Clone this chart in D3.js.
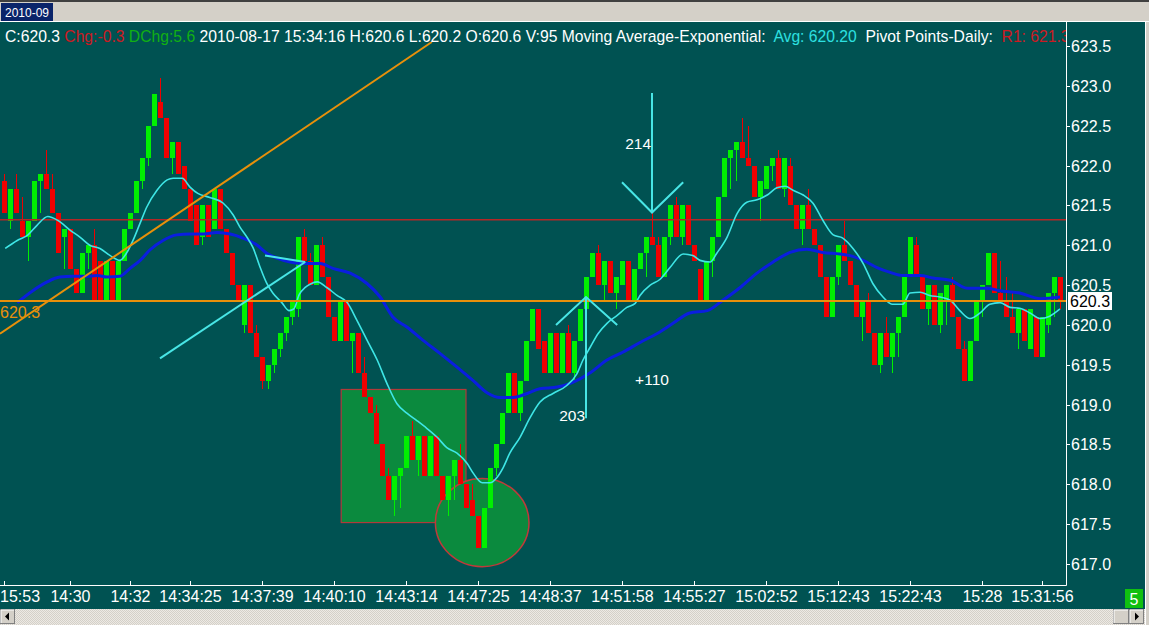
<!DOCTYPE html>
<html><head><meta charset="utf-8">
<script src="https://cdn.jsdelivr.net/npm/d3@7"></script>
<style>
html,body{margin:0;padding:0;background:#d4d0c8;overflow:hidden;}
svg{display:block;font-family:"Liberation Sans",Arial,sans-serif;}
</style></head>
<body>
<svg id="c" width="1149" height="625"></svg>
<script>
// ---------- DATA ----------
// candles: [open, high, low, close]
const candles = [
[621.8,621.9,621.4,621.4],[621.3,621.7,621.2,621.7],[621.7,621.9,621.4,621.4],[621.3,621.6,621.1,621.1],
[621.1,621.3,620.8,621.3],[621.3,621.8,621.3,621.8],[621.8,621.9,621.4,621.9],[621.9,622.2,621.7,621.7],
[621.7,621.9,621.4,621.4],[621.4,621.4,620.9,620.9],[621.1,621.2,620.7,621.2],[621.2,621.2,620.7,620.7],
[620.7,620.7,620.4,620.4],[620.4,620.9,620.4,620.9],[620.9,621.0,620.7,621.0],[621.0,621.2,620.3,620.3],
[620.8,620.8,620.3,620.3],[620.3,620.8,620.3,620.8],[620.8,620.8,620.3,620.3],[620.3,620.8,620.3,620.8],
[620.8,621.2,620.8,621.2],[621.2,621.4,621.2,621.4],[621.4,621.8,621.4,621.8],[621.8,622.1,621.7,622.1],
[622.1,622.5,622.0,622.5],[622.5,622.9,622.5,622.9],[622.8,623.1,622.6,622.6],[622.6,622.6,622.1,622.1],
[622.1,622.3,621.9,622.3],[622.3,622.3,621.9,621.9],[622.0,622.0,621.7,621.7],[621.7,621.7,621.3,621.3],
[621.5,621.5,621.0,621.0],[621.1,621.5,621.0,621.5],[621.5,621.5,621.1,621.1],[621.2,621.7,621.2,621.7],
[621.7,621.7,621.2,621.2],[621.2,621.2,620.9,620.9],[620.9,620.9,620.5,620.5],[620.5,620.5,620.3,620.3],
[620.0,620.5,619.9,620.5],[620.5,620.5,619.9,619.9],[619.9,620.0,619.6,619.6],[619.6,619.6,619.2,619.3],
[619.3,619.5,619.2,619.5],[619.5,619.7,619.4,619.7],[619.7,619.9,619.6,619.9],[619.9,620.1,619.8,620.1],
[620.1,620.3,620.0,620.3],[620.2,621.1,620.1,621.1],[621.1,621.2,620.8,620.8],[620.8,620.9,620.5,620.5],
[620.5,621.0,620.5,621.0],[621.0,621.1,620.6,620.6],[620.6,620.6,620.1,620.1],[620.1,620.1,619.8,619.8],
[619.8,620.3,619.8,620.3],[620.3,620.3,619.8,619.8],[619.8,619.9,619.4,619.9],[619.9,619.9,619.4,619.4],
[619.4,619.6,619.1,619.1],[619.1,619.1,618.9,618.9],[618.9,619.0,618.5,618.5],[618.5,618.5,618.1,618.1],
[618.1,618.2,617.8,617.8],[617.8,618.1,617.6,618.1],[618.1,618.2,617.7,618.2],[618.2,618.6,618.2,618.6],
[618.6,618.8,618.3,618.3],[618.3,618.6,618.1,618.6],[618.6,618.6,618.1,618.1],[618.1,618.6,618.1,618.6],
[618.6,618.6,618.1,618.1],[618.1,618.1,617.8,617.8],[617.8,618.1,617.6,618.1],[618.1,618.3,617.8,618.3],
[618.3,618.5,618.0,618.0],[618.0,618.0,617.7,617.7],[617.8,618.0,617.6,617.6],[617.6,617.6,617.2,617.2],
[617.2,617.7,617.2,617.7],[617.7,618.2,617.7,618.2],[618.2,618.5,618.1,618.5],[618.5,618.9,618.5,618.9],
[618.9,619.4,618.9,619.4],[619.4,619.4,618.9,618.9],[618.9,619.3,618.8,619.3],[619.3,619.8,619.3,619.8],
[619.8,620.2,619.8,620.2],[620.2,620.2,619.7,619.7],[619.8,619.8,619.4,619.4],[619.4,619.9,619.4,619.9],
[619.9,619.9,619.4,619.4],[619.4,619.9,619.4,619.9],[619.9,620.0,619.4,619.4],[619.4,619.8,619.3,619.8],
[619.8,620.2,619.8,620.2],[620.2,620.6,620.2,620.6],[620.6,620.9,620.6,620.9],[620.9,621.0,620.5,620.5],
[620.5,620.8,620.3,620.8],[620.8,620.8,620.4,620.4],[620.4,620.6,620.2,620.6],[620.5,620.8,620.5,620.8],
[620.8,620.8,620.3,620.3],[620.3,620.7,620.3,620.7],[620.7,620.9,620.7,620.9],[620.9,621.1,620.6,621.1],
[621.1,621.4,621.0,621.0],[621.0,621.1,620.6,620.6],[620.6,621.1,620.6,621.1],[621.1,621.5,621.0,621.5],
[621.5,621.6,621.1,621.1],[621.1,621.5,621.0,621.5],[621.5,621.5,621.0,621.0],[621.0,621.0,620.8,620.8],
[620.7,620.7,620.3,620.3],[620.3,620.8,620.3,620.8],[620.8,621.1,620.6,621.1],[621.1,621.6,621.1,621.6],
[621.6,622.1,621.6,622.1],[622.1,622.2,621.7,622.2],[622.2,622.3,621.8,622.3],[622.3,622.6,622.1,622.1],
[622.1,622.5,622.0,622.0],[622.0,622.0,621.6,621.6],[621.6,621.8,621.3,621.8],[621.7,622.0,621.7,622.0],
[622.0,622.1,621.8,622.1],[622.1,622.2,621.7,621.7],[621.7,622.1,621.6,622.1],[622.0,622.1,621.5,621.5],
[621.5,621.5,621.2,621.2],[621.2,621.5,621.0,621.5],[621.5,621.7,621.2,621.2],[621.2,621.2,621.0,621.0],
[621.0,621.0,620.6,620.6],[620.6,620.6,620.1,620.1],[620.1,620.6,620.1,620.6],[620.6,621.0,620.5,621.0],
[621.0,621.3,620.8,620.8],[620.8,620.8,620.5,620.5],[620.5,620.5,620.1,620.1],[620.1,620.3,619.8,620.3],
[620.3,620.4,619.9,619.9],[619.9,619.9,619.5,619.5],[619.5,619.9,619.4,619.9],[619.9,620.1,619.6,619.6],
[619.6,619.9,619.4,619.9],[619.9,620.1,619.6,620.1],[620.1,620.6,620.1,620.6],[620.6,621.1,620.6,621.1],
[621.0,621.1,620.6,620.6],[620.6,620.6,620.2,620.2],[620.2,620.5,620.0,620.5],[620.5,620.5,620.0,620.0],
[620.0,620.4,619.9,620.4],[620.3,620.5,620.0,620.5],[620.5,620.6,620.1,620.1],[620.1,620.1,619.7,619.7],
[619.7,619.8,619.3,619.3],[619.3,619.8,619.3,619.8],[619.8,620.3,619.8,620.3],[620.3,620.5,620.1,620.5],
[620.5,620.9,620.5,620.9],[620.9,620.9,620.4,620.4],[620.4,620.8,620.3,620.3],[620.3,620.6,620.1,620.1],
[620.1,620.4,619.9,619.9],[619.9,620.2,619.7,620.2],[620.2,620.2,619.8,619.8],[619.7,620.2,619.7,620.2],
[620.1,620.1,619.6,619.6],[619.6,620.1,619.6,620.1],[620.0,620.4,619.9,620.4],[620.4,620.6,620.1,620.6],
[620.6,620.6,620.2,620.3]
];

// fast EMA (cyan) sampled: [candle index, price]
const emaFast = [
[0.2,620.96],[2.2,621.06],[4,621.13],[5.5,621.25],[7.3,621.36],[9,621.31],[11,621.19],[12.7,621.10],
[14.3,621.0],[16,620.96],[17.7,620.87],[19.3,620.81],[20.5,620.91],[21.5,621.06],[22.7,621.28],[23.8,621.48],
[25.5,621.69],[27.2,621.82],[28.2,621.84],[29.7,621.84],[31,621.73],[32.3,621.65],[34.3,621.60],[36.5,621.53],
[38.2,621.38],[39.3,621.23],[40.5,621.10],[41.5,620.97],[42.7,620.72],[43.8,620.52],[44.8,620.40],[46.3,620.28],
[47.5,620.18],[48.3,620.2],[49.2,620.38],[50.2,620.47],[51,620.51],[52.2,620.54],[53.8,620.47],[55.5,620.37],[57.2,620.28],
[58.8,620.06],[60.5,619.81],[62.2,619.56],[63.8,619.27],[65.5,619.01],[67.2,618.89],[68.8,618.80],[70.5,618.70],
[72.2,618.59],[73.8,618.46],[75.5,618.39],[77.2,618.26],[78.2,618.14],[79.7,618.02],[81,618.02],[82.2,618.09],
[83.2,618.21],[84.3,618.39],[86,618.59],[87.7,618.84],[89.3,619.03],[91.5,619.14],[93.8,619.24],[95.5,619.39],
[96.5,619.56],[97.7,619.72],[99,619.89],[100.5,620.02],[102.2,620.12],[103.8,620.22],[105.2,620.27],[106,620.37],
[107.7,620.50],[109.3,620.57],[111,620.72],[113.2,620.89],[114.8,620.87],[116,620.81],[117.7,620.79],[118.8,620.90],
[120.5,621.10],[122.2,621.40],[123.8,621.54],[125.5,621.57],[127.2,621.63],[128.8,621.72],[130.2,621.74],[131.5,621.69],
[133.2,621.63],[134.8,621.53],[136.5,621.31],[138.2,621.13],[139.8,621.09],[141.5,620.96],[143.2,620.77],[144.8,620.52],
[146.5,620.35],[148,620.26],[149.8,620.26],[151,620.40],[152.7,620.41],[154.3,620.37],[156,620.35],[157.7,620.31],
[159.3,620.18],[161,620.08],[162.7,620.15],[164.3,620.26],[166,620.28],[167.7,620.22],[169.3,620.21],[171,620.15],
[172.7,620.08],[174.3,620.11],[176,620.20]
];

// slow EMA (blue) sampled: [candle index, price]
const emaSlow = [
[2.2,620.28],[4.8,620.43],[7.2,620.54],[9.3,620.60],[11.5,620.61],[13.8,620.61],[15.5,620.62],[17.2,620.60],
[19.3,620.61],[21,620.71],[22.7,620.81],[24.3,620.94],[26.5,621.06],[28.8,621.13],[31,621.14],[33.2,621.14],
[35.5,621.16],[37.7,621.14],[39.8,621.09],[42.2,621.0],[43.8,620.90],[45.5,620.84],[47.7,620.79],[49.8,620.77],
[52.7,620.77],[54.8,620.71],[57.7,620.65],[60.5,620.52],[62.7,620.35],[64.8,620.10],[67.2,619.97],[69.8,619.81],
[72.7,619.64],[75.5,619.47],[78.2,619.30],[80.5,619.15],[82.7,619.09],[84.8,619.09],[87.2,619.14],[89.3,619.20],
[92.2,619.22],[94.8,619.28],[97.7,619.40],[100.5,619.56],[103.2,619.66],[106,619.78],[108.8,619.89],[111.5,620.02],
[114.3,620.15],[117.2,620.18],[119.8,620.31],[122.7,620.47],[125.5,620.65],[128.2,620.79],[131,620.91],[133.8,620.95],
[136.5,620.91],[139.3,620.89],[141,620.87],[143.2,620.81],[145.5,620.72],[147.7,620.66],[149.8,620.62],[152.7,620.62],
[154.8,620.59],[157.7,620.56],[160.5,620.46],[163.8,620.46],[166,620.43],[169.3,620.40],[172.7,620.33],[176,620.35]
];

const yTicks = [617.0,617.5,618.0,618.5,619.0,619.5,620.0,620.5,621.0,621.5,622.0,622.5,623.0,623.5];
const xTickIdx = [0,11,21,31,43,55,67,79,91,103,115,127,139,151,163,173];
const xTickLabels = ["15:53","14:30","14:32","14:34:25","14:37:39","14:40:10","14:43:14","14:47:25","14:48:37","14:51:58","14:55:27","15:02:52","15:12:43","15:22:43","15:28","15:31:56"];

const lastPrice = 620.3;
const pivotR1 = 621.33;

// drawn objects in (candle index, price)
const trendLine = [[-0.67,619.89],[71.3,623.55]];
const arrowLeftShaft = [[26,619.58],[50.2,620.79]];
const arrowLeftHead = [[43.5,620.87],[50.2,620.79]];
const arrowUpShaft = [[97,618.83],[97,620.35]];
const arrowUpHead = [[92,620.0],[97,620.35],[102.2,620.0]];
const arrowDownShaft = [[108,622.91],[108,621.41]];
const arrowDownHead = [[103,621.79],[108,621.41],[113.2,621.79]];
const boxArea = [[56.2,619.19],[77,617.52]];
const circleArea = {cx:79.7, cy:617.52, rIdx:7.8, rPrice:0.553};
const noteLabels = [[105.7,622.28,"214"],[94.7,618.86,"203"],[108,619.31,"+110"]];

// header segments
const header = [
 ["C:620.3 ","#ffffff"],["Chg:-0.3 ","#cc1a22"],["DChg:5.6 ","#12b012"],
 ["2010-08-17 15:34:16 H:620.6 L:620.2 O:620.6 V:95 Moving Average-Exponential:  ","#ffffff"],
 ["Avg: 620.20","#2de0e0"],["  Pivot Points-Daily:  ","#ffffff"],["R1: 621.3","#cc1a22"]
];

// ---------- LAYOUT ----------
const W = 1149, H = 625;
const plotL = 0, plotR = 1066, plotT = 22, plotB = 585;
const teal = "#005252";
const svg = d3.select("#c");

const x = d3.scaleLinear().domain([0,176]).range([4,1060]);
const y = d3.scaleLinear().domain([617.0,623.5]).range([564,46]);

// window chrome
svg.append("rect").attr("x",0).attr("y",0).attr("width",W).attr("height",H).attr("fill","#d4d0c8");
svg.append("rect").attr("x",0).attr("y",0).attr("width",W).attr("height",2).attr("fill","#404040");
svg.append("rect").attr("x",1).attr("y",3).attr("width",52).attr("height",19).attr("fill","#0a246a");
svg.append("text").attr("x",27).attr("y",17).attr("text-anchor","middle").attr("fill","#fff")
  .attr("font-size",12).text("2010-09");
svg.append("rect").attr("x",0).attr("y",21).attr("width",W).attr("height",1).attr("fill","#ffffff");
svg.append("rect").attr("x",0).attr("y",22).attr("width",1145).attr("height",587).attr("fill",teal);

// scrollbar
const defs = svg.append("defs");
const pat = defs.append("pattern").attr("id","hatch").attr("width",2).attr("height",2).attr("patternUnits","userSpaceOnUse");
pat.append("rect").attr("width",2).attr("height",2).attr("fill","#ece9e4");
pat.append("rect").attr("width",1).attr("height",1).attr("fill","#d4d0c8");
pat.append("rect").attr("x",1).attr("y",1).attr("width",1).attr("height",1).attr("fill","#d4d0c8");
svg.append("rect").attr("x",0).attr("y",609).attr("width",1145).attr("height",16).attr("fill","url(#hatch)");
function button(bx,by,bw,bh){
  svg.append("rect").attr("x",bx).attr("y",by).attr("width",bw).attr("height",bh).attr("fill","#d4d0c8")
    .attr("stroke","#808080").attr("stroke-width",1);
  svg.append("path").attr("d",`M${bx+0.5},${by+bh-0.5}V${by+0.5}H${bx+bw-0.5}`).attr("fill","none").attr("stroke","#fff");
}
button(0.5,609.5,14,14);
svg.append("path").attr("d","M5,616.5L9,612.5V620.5Z").attr("fill","#000");
button(1113.5,609.5,15,14);
button(1129.5,609.5,14,14);
svg.append("path").attr("d","M1135,612.5L1139,616.5L1135,620.5Z").attr("fill","#000");
svg.append("rect").attr("x",1145).attr("y",22).attr("width",4).attr("height",603).attr("fill","#d4d0c8");
svg.append("rect").attr("x",1145).attr("y",22).attr("width",1).attr("height",603).attr("fill","#ffffff");

// clip
defs.append("clipPath").attr("id","plotclip").append("rect")
  .attr("x",plotL).attr("y",plotT).attr("width",plotR-plotL).attr("height",plotB-plotT);
const g = svg.append("g").attr("clip-path","url(#plotclip)");

// shapes behind candles
const [b0,b1] = boxArea;
g.append("rect").attr("x",x(b0[0])).attr("y",y(b0[1]))
  .attr("width",x(b1[0])-x(b0[0])).attr("height",y(b1[1])-y(b0[1]))
  .attr("fill","#0b8a3e").attr("stroke","#b03a3a").attr("stroke-width",1.2);
g.append("ellipse").attr("cx",x(circleArea.cx)).attr("cy",y(circleArea.cy))
  .attr("rx",x(circleArea.rIdx)-x(0)).attr("ry",y(617.0)-y(617.0+circleArea.rPrice))
  .attr("fill","#0b8a3e").attr("stroke","#c03a3a").attr("stroke-width",1.5);

// candles
const up = "#00f000", dn = "#f00000";
const cg = g.append("g").attr("shape-rendering","crispEdges");
candles.forEach((c,i)=>{
  const [o,h,l,cl] = c;
  const col = cl >= o ? up : dn;
  const cx = Math.round(x(i));
  cg.append("line").attr("x1",cx+0.5).attr("x2",cx+0.5).attr("y1",y(h)).attr("y2",y(l)).attr("stroke",col).attr("stroke-width",1);
  const top = y(Math.max(o,cl)), bot = y(Math.min(o,cl));
  cg.append("rect").attr("x",cx-2).attr("y",top).attr("width",5).attr("height",Math.max(1,bot-top)).attr("fill",col);
});

// pivot R1 line
g.append("rect").attr("x",plotL).attr("y",Math.round(y(pivotR1))).attr("width",plotR-plotL).attr("height",1.5)
  .attr("fill","#b42626");

// EMA lines
const ln = d3.line().x(d=>x(d[0])).y(d=>y(d[1])).curve(d3.curveMonotoneX);
g.append("path").datum(emaSlow).attr("d",ln).attr("fill","none").attr("stroke","#0a1ee0").attr("stroke-width",3);
g.append("path").datum(emaFast).attr("d",ln).attr("fill","none").attr("stroke","#3ee6e6").attr("stroke-width",1.6);

// last price line and trend line
g.append("line").attr("x1",plotL).attr("x2",plotR).attr("y1",y(lastPrice)).attr("y2",y(lastPrice))
  .attr("stroke","#e8900a").attr("stroke-width",2);
const sl = d3.line().x(d=>x(d[0])).y(d=>y(d[1]));
g.append("path").datum(trendLine).attr("d",sl).attr("stroke","#e8900a").attr("stroke-width",2).attr("fill","none");

// arrows
[arrowLeftShaft,arrowLeftHead,arrowUpShaft,arrowUpHead,arrowDownShaft,arrowDownHead].forEach(a=>{
  g.append("path").datum(a).attr("d",sl).attr("stroke","#48e6e6").attr("stroke-width",2).attr("fill","none");
});
noteLabels.forEach(([i,p,t])=>{
  g.append("text").attr("x",x(i)).attr("y",y(p)).attr("text-anchor","middle").attr("dominant-baseline","central")
    .attr("fill","#ffffff").attr("font-size",15.5).text(t);
});

// left price label
g.append("text").attr("x",0).attr("y",y(lastPrice)+17).attr("fill","#e8900a").attr("font-size",16).text("620.3");

// header text
const ht = g.append("text").attr("x",5).attr("y",42).attr("font-size",15.7).attr("xml:space","preserve");
header.forEach(([t,c])=>ht.append("tspan").attr("fill",c).text(t));

// axes
svg.append("line").attr("x1",plotR+0.5).attr("x2",plotR+0.5).attr("y1",plotT).attr("y2",plotB+0.5).attr("stroke","#fff");
svg.append("line").attr("x1",0).attr("x2",plotR+0.5).attr("y1",plotB+0.5).attr("y2",plotB+0.5).attr("stroke","#fff");
yTicks.forEach(v=>{
  const yy = Math.round(y(v))+0.5;
  svg.append("line").attr("x1",plotR).attr("x2",plotR+4).attr("y1",yy).attr("y2",yy).attr("stroke","#fff");
  svg.append("text").attr("x",plotR+5).attr("y",yy).attr("dominant-baseline","central")
    .attr("fill","#fff").attr("font-size",16).text(v.toFixed(1));
});
// last price box on axis
svg.append("rect").attr("x",1068).attr("y",y(lastPrice)-9).attr("width",44).attr("height",18).attr("fill","#fff");
svg.append("text").attr("x",1070).attr("y",y(lastPrice)).attr("dominant-baseline","central")
  .attr("fill","#000").attr("font-size",16).text(lastPrice.toFixed(1));

xTickIdx.forEach((i,k)=>{
  const xx = Math.round(x(i))+0.5;
  svg.append("line").attr("x1",xx).attr("x2",xx).attr("y1",plotB-4).attr("y2",plotB).attr("stroke","#fff");
  const t = svg.append("text").attr("y",602).attr("fill","#fff").attr("font-size",16).text(xTickLabels[k]);
  if(k===0){ t.attr("x",0); } else { t.attr("x",xx).attr("text-anchor","middle"); }
});

// page number box
svg.append("rect").attr("x",1125).attr("y",589).attr("width",18).attr("height",19).attr("fill","#10c010");
svg.append("text").attr("x",1134).attr("y",599).attr("text-anchor","middle").attr("dominant-baseline","central")
  .attr("fill","#fff").attr("font-size",16).text("5");
</script>
</body></html>
